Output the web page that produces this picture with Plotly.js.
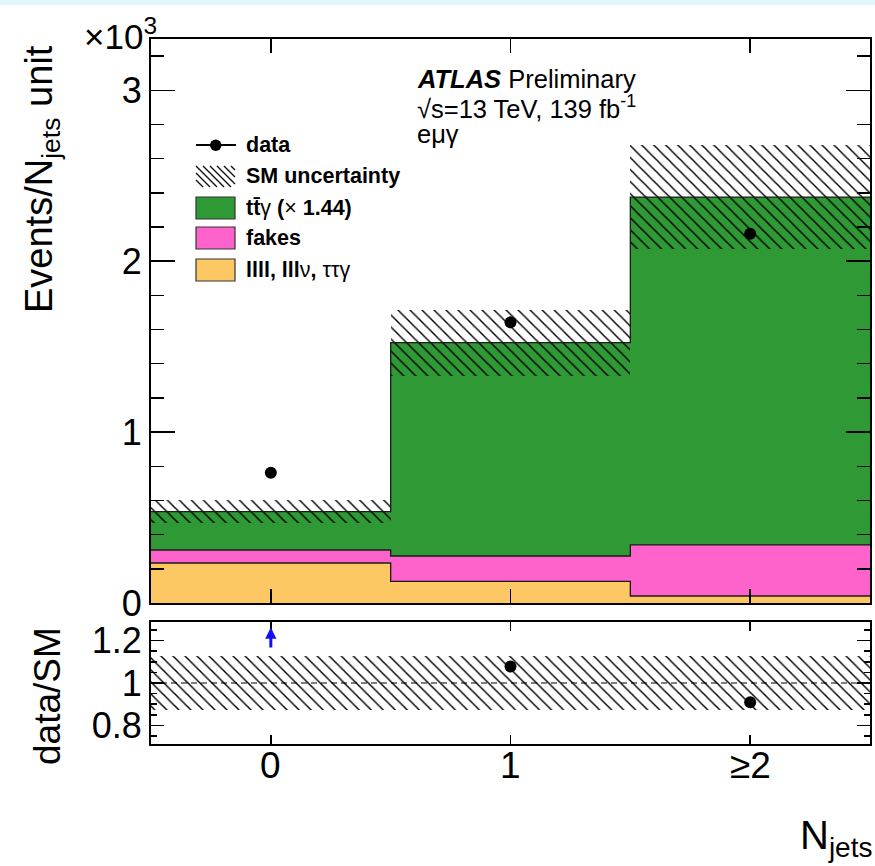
<!DOCTYPE html>
<html>
<head>
<meta charset="utf-8">
<script src="https://cdn.plot.ly/plotly-3.0.1.min.js"></script>
<style>html,body{margin:0;padding:0;background:#fff;}</style>
</head>
<body>
<div id="chart" style="width:875px;height:866px;"></div>
<script>
// N_jets bins
const binCenters = [0, 1, 2];
const binEdges = [-0.5, 0.5, 1.5, 2.5];
const binLabels = ['0', '1', '\u22652'];

// Events per N_jets unit (e mu gamma channel)
const dataEvents   = [762, 1642, 2160];
const otherPrompt  = [234, 126, 41];    // llll, lllν, ττγ
const fakes        = [76, 149, 299];
const ttgamma      = [225, 1248, 2035]; // scaled by 1.44
const smUncertainty = [68, 193, 303];

// ratio panel y range
const ratioRange = [0.712, 1.288];

// axis shows units of 10^3 events
const k = v => v / 1000;

const sumArr = (...arrs) => arrs[0].map((_, i) => arrs.reduce((s, a) => s + a[i], 0));
const lvl1 = otherPrompt;
const lvl2 = sumArr(otherPrompt, fakes);
const total = sumArr(otherPrompt, fakes, ttgamma);
const ratio = dataEvents.map((d, i) => d / total[i]);
const relUnc = smUncertainty.map((u, i) => u / total[i]);

const colOrange = '#fdc864';
const colPink = '#fe62cb';
const colGreen = '#2e9935';
const hatch = {shape: '\\', fgcolor: '#000', fgopacity: 1, bgcolor: 'rgba(0,0,0,0)', size: 8.5, solidity: 0.17, fillmode: 'overlay'};

function stepY(vals) { return vals.map(k).concat([k(vals[vals.length - 1])]); }

const traces = [];
// stacked background fills
traces.push({type: 'bar', x: binCenters, y: otherPrompt.map(k), base: 0, width: 1,
  marker: {color: colOrange, line: {width: 0}}, xaxis: 'x', yaxis: 'y', hoverinfo: 'skip'});
traces.push({type: 'bar', x: binCenters, y: fakes.map(k), base: lvl1.map(k), width: 1,
  marker: {color: colPink, line: {width: 0}}, xaxis: 'x', yaxis: 'y', hoverinfo: 'skip'});
traces.push({type: 'bar', x: binCenters, y: ttgamma.map(k), base: lvl2.map(k), width: 1,
  marker: {color: colGreen, line: {width: 0}}, xaxis: 'x', yaxis: 'y', hoverinfo: 'skip'});
// step outlines of each stack level
[lvl1, lvl2, total].forEach(lv => {
  traces.push({type: 'scatter', mode: 'lines', x: binEdges, y: stepY(lv),
    line: {shape: 'hv', color: '#1a1a1a', width: 1.3}, xaxis: 'x', yaxis: 'y', hoverinfo: 'skip'});
});
// SM uncertainty band
traces.push({type: 'bar', x: binCenters, y: smUncertainty.map(u => k(2 * u)),
  base: total.map((t, i) => k(t - smUncertainty[i])), width: 1,
  marker: {color: 'rgba(0,0,0,0)', line: {width: 0}, pattern: hatch}, xaxis: 'x', yaxis: 'y', hoverinfo: 'skip'});
// data
traces.push({type: 'scatter', mode: 'markers', x: binCenters, y: dataEvents.map(k),
  marker: {color: '#000', size: 12}, xaxis: 'x', yaxis: 'y'});

// ratio panel
traces.push({type: 'bar', x: binCenters, y: relUnc.map(r => 2 * r), base: relUnc.map(r => 1 - r), width: 1,
  marker: {color: 'rgba(0,0,0,0)', line: {width: 0}, pattern: hatch}, xaxis: 'x2', yaxis: 'y2', hoverinfo: 'skip'});
traces.push({type: 'scatter', mode: 'lines', x: [binEdges[0], binEdges[binEdges.length - 1]], y: [1, 1],
  line: {color: '#000', width: 1.2, dash: '6px,4px'}, xaxis: 'x2', yaxis: 'y2', hoverinfo: 'skip'});
const inX = [], inY = [];
ratio.forEach((r, i) => { if (r <= ratioRange[1] && r >= ratioRange[0]) { inX.push(binCenters[i]); inY.push(r); } });
traces.push({type: 'scatter', mode: 'markers', x: inX, y: inY,
  marker: {color: '#000', size: 12}, xaxis: 'x2', yaxis: 'y2'});

// page geometry
const W = 875, H = 866, ML = 151, MR = 5, MT = 39, MB = 122;
const PW = W - ML - MR, PH = H - MT - MB;
const px = p => (p - ML) / PW;
const py = p => (H - MB - p) / PH;

const font = 'Liberation Sans, Arial, Helvetica, sans-serif';
const frame = {showline: true, linecolor: '#000', linewidth: 2, mirror: 'ticks', showgrid: false,
  zeroline: false, ticks: 'inside', tickcolor: '#000', tickwidth: 1.5};

const shapes = [];
const annotations = [];

// light strip along the top edge
shapes.push({type: 'rect', xref: 'paper', yref: 'paper', x0: px(0), x1: px(W), y0: py(0), y1: py(5),
  fillcolor: '#e0f8fc', line: {width: 0}, layer: 'below'});

// legend
const legX0 = 196, legX1 = 235, legTextX = 244;
const legRows = [145, 176, 208, 238, 270];
// data entry
shapes.push({type: 'line', xref: 'paper', yref: 'paper', x0: px(legX0), x1: px(legX1 + 1), y0: py(legRows[0]), y1: py(legRows[0]),
  line: {color: '#000', width: 2}});
shapes.push({type: 'circle', xref: 'paper', yref: 'paper', x0: px(210), x1: px(221.5), y0: py(139.5), y1: py(151),
  fillcolor: '#000', line: {color: '#000', width: 0}});
// hatched entry
(function () {
  const top = 166, bot = 187, h = bot - top, step = 7;
  let d = '';
  for (let s = legX0 - h; s < legX1; s += step) {
    let xa = s, ya = top, xb = s + h, yb = bot;
    if (xa < legX0) { ya = top + (legX0 - xa); xa = legX0; }
    if (xb > legX1) { yb = bot - (xb - legX1); xb = legX1; }
    if (xb - xa < 2) continue;
    d += 'M' + px(xa) + ',' + py(ya) + 'L' + px(xb) + ',' + py(yb);
  }
  shapes.push({type: 'path', xref: 'paper', yref: 'paper', path: d, line: {color: '#111', width: 1.4}});
})();
[[colGreen, legRows[2]], [colPink, legRows[3]], [colOrange, legRows[4]]].forEach(([c, yc]) => {
  shapes.push({type: 'rect', xref: 'paper', yref: 'paper', x0: px(legX0), x1: px(legX1), y0: py(yc + 11), y1: py(yc - 11),
    fillcolor: c, line: {color: '#333', width: 1.2}});
});
const legTexts = ['<b>data</b>', '<b>SM uncertainty</b>', '<b>tt\u0304</b>\u03b3 <b>(</b>\u00d7<b> 1.44)</b>', '<b>fakes</b>',
  '<b>llll, lll</b>\u03bd<b>, </b>\u03c4\u03c4\u03b3'];
legTexts.forEach((t, i) => {
  annotations.push({xref: 'paper', yref: 'paper', x: px(legTextX), y: py(legRows[i]), xanchor: 'left', yanchor: 'middle',
    text: t, showarrow: false, font: {family: font, size: 21.5, color: '#000'}});
});

// experiment labels
const labelSize = 25.5;
annotations.push({xref: 'paper', yref: 'paper', x: px(415), y: py(79), xanchor: 'left', yanchor: 'middle',
  text: '<b><i>ATLAS</i></b> Preliminary', showarrow: false, font: {family: font, size: labelSize, color: '#000'}});
annotations.push({xref: 'paper', yref: 'paper', x: px(415), y: py(107), xanchor: 'left', yanchor: 'middle',
  text: '\u221As=13 TeV, 139 fb<sup>-1</sup>', showarrow: false, font: {family: font, size: labelSize, color: '#000'}});
annotations.push({xref: 'paper', yref: 'paper', x: px(415), y: py(134), xanchor: 'left', yanchor: 'middle',
  text: 'e\u03bc\u03b3', showarrow: false, font: {family: font, size: labelSize, color: '#000'}});

// axis titles and exponent
annotations.push({xref: 'paper', yref: 'paper', x: px(159), y: py(34), xanchor: 'right', yanchor: 'middle',
  text: '\u00d710<sup>3</sup>', showarrow: false, font: {family: font, size: 35, color: '#000'}});
annotations.push({xref: 'paper', yref: 'paper', x: px(42), y: py(179), xanchor: 'center', yanchor: 'middle', textangle: -90,
  text: 'Events/N<sub>jets</sub> unit', showarrow: false, font: {family: font, size: 38, color: '#000'}});
annotations.push({xref: 'paper', yref: 'paper', x: px(47), y: py(696), xanchor: 'center', yanchor: 'middle', textangle: -90,
  text: 'data/SM', showarrow: false, font: {family: font, size: 37, color: '#000'}});
annotations.push({xref: 'paper', yref: 'paper', x: px(874), y: py(838), xanchor: 'right', yanchor: 'middle',
  text: 'N<sub>jets</sub>', showarrow: false, font: {family: font, size: 40, color: '#000'}});

// bin labels under the ratio panel, placed on the x2 scale
binCenters.forEach((c, i) => {
  annotations.push({xref: 'x2', yref: 'paper', x: c, y: py(765), xanchor: 'center', yanchor: 'middle',
    text: binLabels[i], showarrow: false, font: {family: font, size: 37, color: '#000'}});
});

// off-scale ratio markers
ratio.forEach((r, i) => {
  if (r > ratioRange[1]) {
    annotations.push({xref: 'x2', yref: 'y2', axref: 'x2', ayref: 'y2', x: binCenters[i], y: 1.262,
      ax: binCenters[i], ay: 1.16, text: '', showarrow: true, arrowhead: 2, arrowsize: 0.75,
      arrowwidth: 3, arrowcolor: '#1010ff'});
  }
});

const layout = {
  width: W, height: H,
  margin: {l: ML, r: MR, t: MT, b: MB, pad: 0},
  paper_bgcolor: '#fff', plot_bgcolor: '#fff',
  showlegend: false,
  barmode: 'overlay', bargap: 0,
  font: {family: font, color: '#000'},
  xaxis: Object.assign({}, frame, {domain: [0, 1], anchor: 'y', range: [-0.5, 2.5],
    tickmode: 'array', tickvals: binCenters, showticklabels: false, ticklen: 14}),
  yaxis: Object.assign({}, frame, {domain: [0.2, 1], anchor: 'x', range: [0, 3.3],
    tick0: 0, dtick: 1, ticklen: 24, tickfont: {family: font, size: 36},
    minor: {dtick: 0.2, tick0: 0, ticks: 'inside', ticklen: 13, tickcolor: '#000', tickwidth: 1.5}}),
  xaxis2: Object.assign({}, frame, {domain: [0, 1], anchor: 'y2', range: [-0.5, 2.5],
    tickmode: 'array', tickvals: binCenters, showticklabels: false, ticklen: 9}),
  yaxis2: Object.assign({}, frame, {domain: [0, py(622)], anchor: 'x2', range: ratioRange,
    tick0: 0, dtick: 0.2, ticklen: 13, tickfont: {family: font, size: 36},
    minor: {dtick: 0.05, tick0: 0, ticks: 'inside', ticklen: 6, tickcolor: '#000', tickwidth: 1.5}}),
  shapes: shapes,
  annotations: annotations
};

Plotly.newPlot('chart', traces, layout, {displayModeBar: false, staticPlot: true});
</script>
</body>
</html>
